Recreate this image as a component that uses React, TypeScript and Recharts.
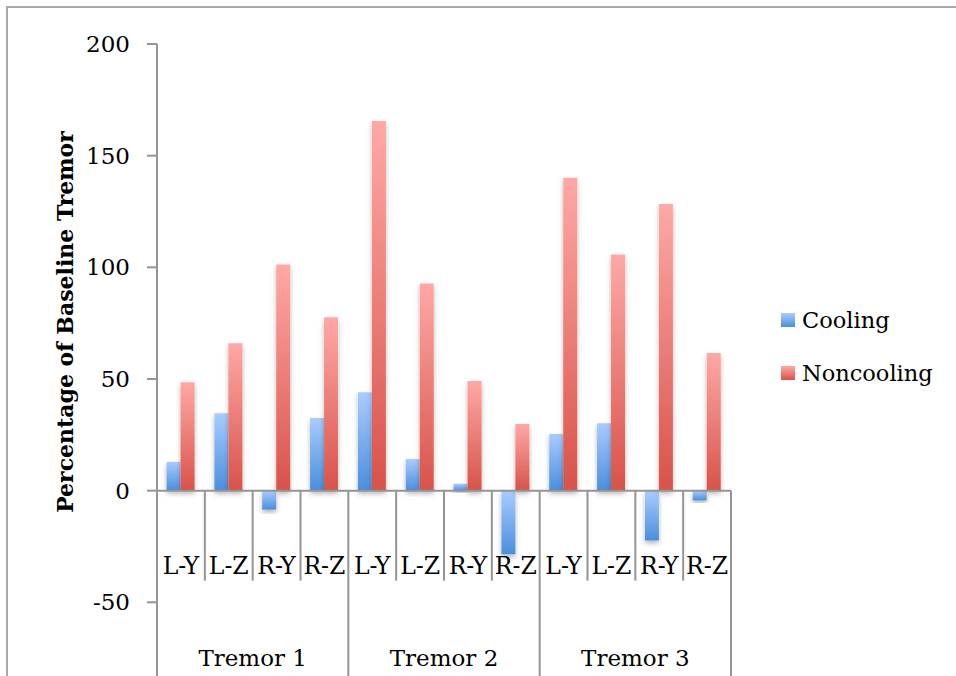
import { BarChart, Bar, XAxis, YAxis, ReferenceLine, Legend, usePlotArea } from 'recharts';

const groups = ['Tremor 1', 'Tremor 2', 'Tremor 3'];
const axisNames = ['L-Y', 'L-Z', 'R-Y', 'R-Z'];
const cooling = [12.9, 34.6, -8.5, 32.5, 44.1, 14.2, 3.1, -28.5, 25.4, 30.2, -22.3, -4.4];
const noncooling = [48.5, 66.0, 101.3, 77.6, 165.5, 92.8, 49.1, 29.8, 140.1, 105.7, 128.4, 61.6];
const yTicks = [-50, 0, 50, 100, 150, 200];
const Y_MIN = -83;
const Y_MAX = 200;

const data = cooling.map((c, i) => ({
  key: `${groups[Math.floor(i / 4)]} ${axisNames[i % 4]}`,
  sub: axisNames[i % 4],
  group: groups[Math.floor(i / 4)],
  cooling: c,
  noncooling: noncooling[i],
}));

const FONT = '"DejaVu Serif", serif';
const GREY = '#959595';

function CategoryTick(props: any) {
  const { x, index } = props;
  const area = usePlotArea();
  if (!area) return null;
  const bw = area.width / data.length;
  const zeroY = area.y + (area.height * Y_MAX) / (Y_MAX - Y_MIN);
  const bottom = area.y + area.height;
  const left = x - bw / 2;
  const isGroupStart = index % 4 === 0;
  const isLast = index === data.length - 1;
  return (
    <g>
      <line x1={left} x2={left} y1={zeroY} y2={isGroupStart ? bottom : zeroY + 90} stroke={GREY} strokeWidth={2} />
      {isLast && <line x1={x + bw / 2} x2={x + bw / 2} y1={zeroY} y2={bottom} stroke={GREY} strokeWidth={2} />}
      <text x={x} y={zeroY + 75} textAnchor="middle" dominantBaseline="central" fontFamily={FONT} fontSize={23.5} fill="#000">
        {data[index].sub}
      </text>
      {index % 4 === 1 && (
        <text x={x + bw / 2} y={zeroY + 167} textAnchor="middle" dominantBaseline="central" fontFamily={FONT} fontSize={23} fill="#000">
          {data[index].group}
        </text>
      )}
    </g>
  );
}

function LegendBox(props: any) {
  const items = props.payload || [];
  return (
    <div>
      {items.map((it: any) => (
        <div key={it.value} style={{ display: 'flex', alignItems: 'center', height: 26, marginBottom: 27 }}>
          <div
            style={{
              width: 14,
              height: 14,
              marginRight: 7,
              background: it.value === 'Cooling' ? 'linear-gradient(#a9ccfe, #4a8fdc)' : 'linear-gradient(#ffa8a5, #d8534a)',
            }}
          />
          <span style={{ fontFamily: FONT, fontSize: 22.5, color: '#000' }}>{it.value}</span>
        </div>
      ))}
    </div>
  );
}

export default function App() {
  return (
    <div style={{ position: 'fixed', left: 0, top: 0, width: 956, height: 676, overflow: 'hidden', background: '#fff' }}>
      <div
        style={{
          position: 'absolute',
          left: 6,
          top: 6,
          width: 1100,
          height: 1100,
          border: '2px solid #a8a8a8',
        }}
      />
      <div style={{ position: 'absolute', left: 0, top: 0 }}>
        <BarChart
          width={956}
          height={676}
          data={data}
          margin={{ top: 44, right: 225, bottom: -30, left: 37 }}
          barCategoryGap="20%"
          barGap={0}
        >
          <defs>
            <linearGradient id="gBlue" x1="0" y1="0" x2="0" y2="1">
              <stop offset="0%" stopColor="#a9ccfe" />
              <stop offset="100%" stopColor="#4a8fdc" />
            </linearGradient>
            <linearGradient id="gRed" x1="0" y1="0" x2="0" y2="1">
              <stop offset="0%" stopColor="#ffa8a5" />
              <stop offset="100%" stopColor="#d8534a" />
            </linearGradient>
            <filter id="barShadow" x="-40%" y="-10%" width="180%" height="130%">
              <feDropShadow dx="0" dy="3" stdDeviation="2.5" floodColor="#000" floodOpacity="0.28" />
            </filter>
          </defs>
          <XAxis dataKey="key" height={30} axisLine={false} tickLine={false} interval={0} tick={<CategoryTick />} />
          <YAxis
            width={120}
            domain={[Y_MIN, Y_MAX]}
            ticks={yTicks}
            interval={0}
            axisLine={{ stroke: GREY, strokeWidth: 2 }}
            tickLine={{ stroke: GREY, strokeWidth: 2 }}
            tickSize={10}
            tickMargin={17}
            tick={{ fontFamily: FONT, fontSize: 23, fill: '#000' }}
            label={{
              content: (p: any) => {
                const vb = p.viewBox;
                const cx = vb.x + 28;
                const cy = vb.y + vb.height / 2 - 38;
                return (
                  <text
                    x={cx}
                    y={cy}
                    transform={`rotate(-90, ${cx}, ${cy})`}
                    textAnchor="middle"
                    dominantBaseline="central"
                    fontFamily={FONT}
                    fontWeight="bold"
                    fontSize={22}
                    fill="#000"
                  >
                    Percentage of Baseline Tremor
                  </text>
                );
              },
            }}
          />
          <ReferenceLine y={0} stroke={GREY} strokeWidth={2} />
          <Bar dataKey="cooling" name="Cooling" fill="url(#gBlue)" filter="url(#barShadow)" isAnimationActive={false} />
          <Bar dataKey="noncooling" name="Noncooling" fill="url(#gRed)" filter="url(#barShadow)" isAnimationActive={false} />
          <Legend
            layout="vertical"
            align="center"
            verticalAlign="middle"
            content={<LegendBox />}
            wrapperStyle={{ left: 781, top: 307, width: 170, right: 'auto', bottom: 'auto' }}
          />
        </BarChart>
      </div>
    </div>
  );
}
